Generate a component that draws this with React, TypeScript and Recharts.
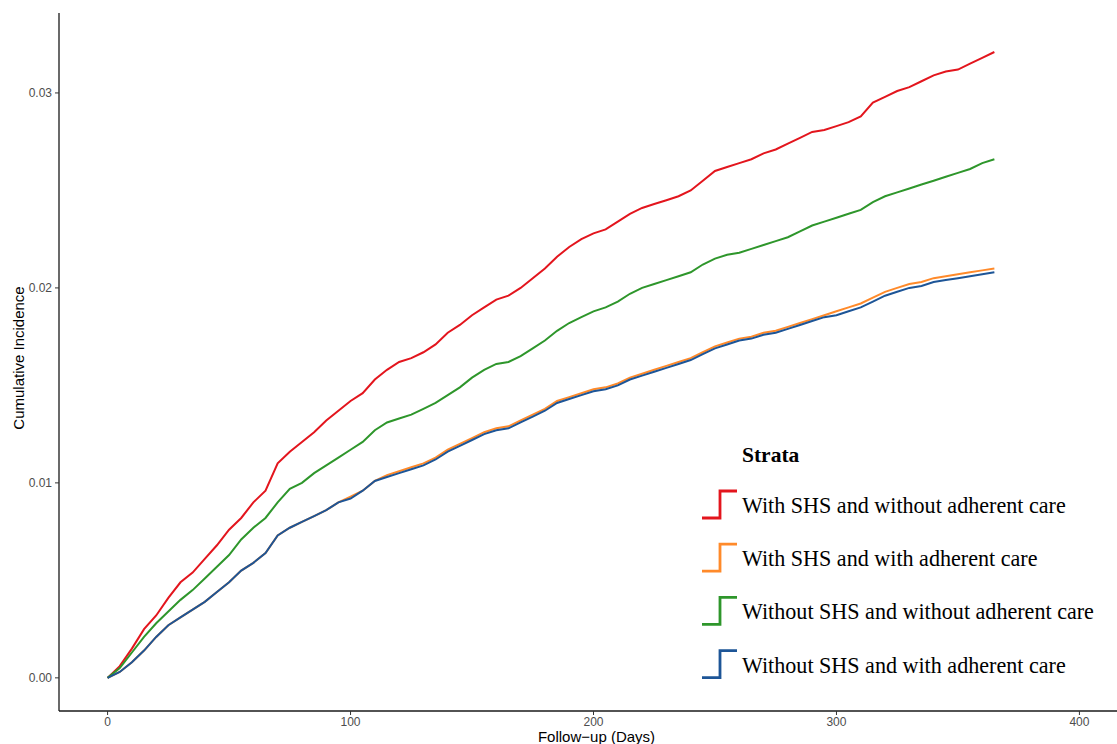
import { Legend, Line, LineChart, XAxis, YAxis } from "recharts";

const days = [
  0, 5, 10, 15, 20, 25, 30, 35, 40, 45, 50, 55, 60, 65, 70, 75, 80, 85, 90, 95,
  100, 105, 110, 115, 120, 125, 130, 135, 140, 145, 150, 155, 160, 165, 170, 175,
  180, 185, 190, 195, 200, 205, 210, 215, 220, 225, 230, 235, 240, 245, 250, 255,
  260, 265, 270, 275, 280, 285, 290, 295, 300, 305, 310, 315, 320, 325, 330, 335,
  340, 345, 350, 355, 360, 365,
];

// With SHS and without adherent care
const shsNoCare = [
  0, 0.0006, 0.0015, 0.0025, 0.0032, 0.0041, 0.0049, 0.0054, 0.0061, 0.0068,
  0.0076, 0.0082, 0.009, 0.0096, 0.011, 0.0116, 0.0121, 0.0126, 0.0132, 0.0137,
  0.0142, 0.0146, 0.0153, 0.0158, 0.0162, 0.0164, 0.0167, 0.0171, 0.0177, 0.0181,
  0.0186, 0.019, 0.0194, 0.0196, 0.02, 0.0205, 0.021, 0.0216, 0.0221, 0.0225,
  0.0228, 0.023, 0.0234, 0.0238, 0.0241, 0.0243, 0.0245, 0.0247, 0.025, 0.0255,
  0.026, 0.0262, 0.0264, 0.0266, 0.0269, 0.0271, 0.0274, 0.0277, 0.028, 0.0281,
  0.0283, 0.0285, 0.0288, 0.0295, 0.0298, 0.0301, 0.0303, 0.0306, 0.0309, 0.0311,
  0.0312, 0.0315, 0.0318, 0.0321,
];

// With SHS and with adherent care
const shsCare = [
  0, 0.0003, 0.0008, 0.0014, 0.0021, 0.0027, 0.0031, 0.0035, 0.0039, 0.0044,
  0.0049, 0.0055, 0.0059, 0.0064, 0.0073, 0.0077, 0.008, 0.0083, 0.0086, 0.009,
  0.0093, 0.0096, 0.0101, 0.0104, 0.0106, 0.0108, 0.011, 0.0113, 0.0117, 0.012,
  0.0123, 0.0126, 0.0128, 0.0129, 0.0132, 0.0135, 0.0138, 0.0142, 0.0144, 0.0146,
  0.0148, 0.0149, 0.0151, 0.0154, 0.0156, 0.0158, 0.016, 0.0162, 0.0164, 0.0167,
  0.017, 0.0172, 0.0174, 0.0175, 0.0177, 0.0178, 0.018, 0.0182, 0.0184, 0.0186,
  0.0188, 0.019, 0.0192, 0.0195, 0.0198, 0.02, 0.0202, 0.0203, 0.0205, 0.0206,
  0.0207, 0.0208, 0.0209, 0.021,
];

// Without SHS and without adherent care
const noShsNoCare = [
  0, 0.0005, 0.0013, 0.0021, 0.0028, 0.0034, 0.004, 0.0045, 0.0051, 0.0057,
  0.0063, 0.0071, 0.0077, 0.0082, 0.009, 0.0097, 0.01, 0.0105, 0.0109, 0.0113,
  0.0117, 0.0121, 0.0127, 0.0131, 0.0133, 0.0135, 0.0138, 0.0141, 0.0145, 0.0149,
  0.0154, 0.0158, 0.0161, 0.0162, 0.0165, 0.0169, 0.0173, 0.0178, 0.0182, 0.0185,
  0.0188, 0.019, 0.0193, 0.0197, 0.02, 0.0202, 0.0204, 0.0206, 0.0208, 0.0212,
  0.0215, 0.0217, 0.0218, 0.022, 0.0222, 0.0224, 0.0226, 0.0229, 0.0232, 0.0234,
  0.0236, 0.0238, 0.024, 0.0244, 0.0247, 0.0249, 0.0251, 0.0253, 0.0255, 0.0257,
  0.0259, 0.0261, 0.0264, 0.0266,
];

// Without SHS and with adherent care
const noShsCare = [
  0, 0.0003, 0.0008, 0.0014, 0.0021, 0.0027, 0.0031, 0.0035, 0.0039, 0.0044,
  0.0049, 0.0055, 0.0059, 0.0064, 0.0073, 0.0077, 0.008, 0.0083, 0.0086, 0.009,
  0.0092, 0.0096, 0.0101, 0.0103, 0.0105, 0.0107, 0.0109, 0.0112, 0.0116, 0.0119,
  0.0122, 0.0125, 0.0127, 0.0128, 0.0131, 0.0134, 0.0137, 0.0141, 0.0143, 0.0145,
  0.0147, 0.0148, 0.015, 0.0153, 0.0155, 0.0157, 0.0159, 0.0161, 0.0163, 0.0166,
  0.0169, 0.0171, 0.0173, 0.0174, 0.0176, 0.0177, 0.0179, 0.0181, 0.0183, 0.0185,
  0.0186, 0.0188, 0.019, 0.0193, 0.0196, 0.0198, 0.02, 0.0201, 0.0203, 0.0204,
  0.0205, 0.0206, 0.0207, 0.0208,
];

const strata = [
  "With SHS and without adherent care",
  "With SHS and with adherent care",
  "Without SHS and without adherent care",
  "Without SHS and with adherent care",
];
const colors = ["#E3151D", "#FF8A2A", "#2E962B", "#1D5597"];
const keys = ["s1", "s2", "s3", "s4"];

const xTicks = [0, 100, 200, 300, 400];
const yTicks = [0, 0.01, 0.02, 0.03];

const data = days.map((d, i) => ({
  day: d,
  s1: shsNoCare[i],
  s2: shsCare[i],
  s3: noShsNoCare[i],
  s4: noShsCare[i],
}));

const sans = "'Liberation Sans', Arial, Helvetica, sans-serif";
const serif = "'Liberation Serif', 'Times New Roman', Times, serif";

const renderLegend = () => (
  <svg width={420} height={260} style={{ display: "block" }}>
    <text x={52} y={32} fontFamily={serif} fontWeight="bold" fontSize={21.5} fill="#000">
      Strata
    </text>
    {strata.map((name, i) => {
      const base = 83 + i * 53.2;
      return (
        <g key={name}>
          <path
            d={`M12 ${base + 5} H30 V${base - 22} H47`}
            stroke={colors[i]}
            strokeWidth={2.8}
            fill="none"
          />
          <text x={52} y={base} fontFamily={serif} fontSize={22.1} fill="#000">
            {name}
          </text>
        </g>
      );
    })}
  </svg>
);

export default function App() {
  return (
    <div
      style={{
        position: "absolute",
        left: 0,
        top: 0,
        width: 1117,
        height: 744,
        overflow: "hidden",
        background: "#fff",
      }}
    >
      <LineChart
        width={1140}
        height={744}
        data={data}
        margin={{ top: 13, right: 12, bottom: 0, left: 0 }}
      >
        <XAxis
          type="number"
          dataKey="day"
          domain={[-20, 420]}
          ticks={xTicks}
          allowDataOverflow
          height={33}
          tickSize={4}
          tickMargin={2}
          axisLine={{ stroke: "#1a1a1a", strokeWidth: 1.3 }}
          tickLine={{ stroke: "#333", strokeWidth: 1 }}
          tick={{ fill: "#4d4d4d", fontSize: 12, fontFamily: sans }}
          label={({ viewBox }: any) => (
            <text
              x={viewBox.x + viewBox.width / 2 + 3}
              y={741.5}
              textAnchor="middle"
              fontFamily={sans}
              fontSize={15}
              fill="#000"
            >
              Follow−up (Days)
            </text>
          )}
        />
        <YAxis
          type="number"
          domain={[-0.0017, 0.0341]}
          ticks={yTicks}
          allowDataOverflow
          width={59}
          tickSize={4}
          tickMargin={3}
          tickFormatter={(v: number) => v.toFixed(2)}
          axisLine={{ stroke: "#1a1a1a", strokeWidth: 1.3 }}
          tickLine={{ stroke: "#333", strokeWidth: 1 }}
          tick={{ fill: "#4d4d4d", fontSize: 12, fontFamily: sans }}
          label={() => (
            <text
              x={23.5}
              y={358}
              transform="rotate(-90, 23.5, 358)"
              textAnchor="middle"
              fontFamily={sans}
              fontSize={15}
              fill="#000"
            >
              Cumulative Incidence
            </text>
          )}
        />
        <Legend
          layout="horizontal"
          align="center"
          verticalAlign="middle"
          content={renderLegend}
          wrapperStyle={{ position: "absolute", left: 690, top: 430, width: 420, height: 260 }}
        />
        {keys.map((k, i) => (
          <Line
            key={k}
            type="linear"
            dataKey={k}
            name={strata[i]}
            stroke={colors[i]}
            strokeWidth={2}
            dot={false}
            activeDot={false}
            isAnimationActive={false}
          />
        ))}
      </LineChart>
    </div>
  );
}
